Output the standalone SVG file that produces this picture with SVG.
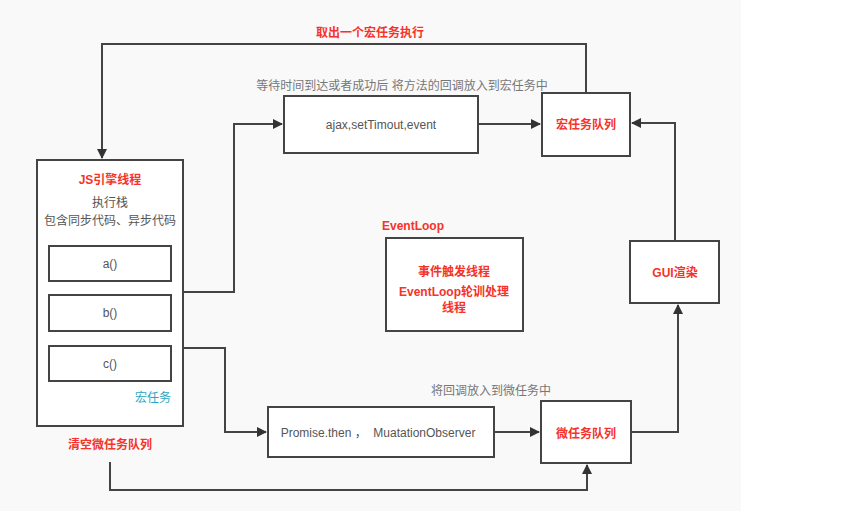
<svg xmlns="http://www.w3.org/2000/svg" width="852" height="515" viewBox="0 0 852 515">
<defs>
<marker id="arr" markerWidth="10" markerHeight="10" refX="9" refY="5" orient="auto" markerUnits="userSpaceOnUse">
<path d="M0,0 L10,5 L0,10 Z" fill="#333"/>
</marker>
<style>
.box{fill:#fff;stroke:#444;stroke-width:2}
.line{fill:none;stroke:#444;stroke-width:2}
.t{font-family:"Liberation Sans","Noto Sans CJK SC",sans-serif;font-size:12px;text-anchor:middle;dominant-baseline:central}
.red{fill:#f5332a;font-weight:bold}
.gray{fill:#555}
.lgray{fill:#777}
.cyan{fill:#2aa6c0}
</style>
</defs>
<rect x="0" y="0" width="852" height="515" fill="#fff"/>
<rect x="0" y="0" width="741" height="511" fill="#f9f9f9"/>

<g id="connectors">
<polyline class="line" points="586,93 586,44 102,44 102,158" marker-end="url(#arr)"/>
<polyline class="line" points="183,292 234,292 234,124 282,124" marker-end="url(#arr)"/>
<polyline class="line" points="478,124 540,124" marker-end="url(#arr)"/>
<polyline class="line" points="675,241 675,123 632,123" marker-end="url(#arr)"/>
<polyline class="line" points="183,348 225,348 225,432 266,432" marker-end="url(#arr)"/>
<polyline class="line" points="494,432 539,432" marker-end="url(#arr)"/>
<polyline class="line" points="631,432 678,432 678,305" marker-end="url(#arr)"/>
<polyline class="line" points="110,462 110,490 587,490 587,465" marker-end="url(#arr)"/>
</g>

<g id="label-top"><text class="t red" x="370" y="33">取出一个宏任务执行</text></g>
<g id="label-wait"><text class="t lgray" x="402" y="86">等待时间到达或者成功后 将方法的回调放入到宏任务中</text></g>
<g id="label-micro"><text class="t lgray" x="491" y="391">将回调放入到微任务中</text></g>
<g id="label-clear"><text class="t red" x="110" y="445">清空微任务队列</text></g>

<g id="js-engine">
<rect class="box" x="37" y="160" width="146" height="266"/>
<text class="t red" x="110" y="180">JS引擎线程</text>
<text class="t gray" x="110" y="203">执行栈</text>
<text class="t gray" x="110" y="221">包含同步代码、异步代码</text>
<text class="t cyan" x="153" y="398">宏任务</text>
</g>
<g id="a"><rect class="box" x="49" y="246" width="122" height="35"/><text class="t gray" x="110" y="264">a()</text></g>
<g id="b"><rect class="box" x="49" y="295" width="122" height="36"/><text class="t gray" x="110" y="313">b()</text></g>
<g id="c"><rect class="box" x="49" y="346" width="122" height="35"/><text class="t gray" x="110" y="364">c()</text></g>

<g id="ajax"><rect class="box" x="284" y="96" width="194" height="57"/><text class="t gray" x="381" y="125">ajax,setTimout,event</text></g>
<g id="macro-queue"><rect class="box" x="542" y="93" width="88" height="63"/><text class="t red" x="586" y="125">宏任务队列</text></g>

<g id="eventloop">
<text class="t red" x="413" y="226">EventLoop</text>
<rect class="box" x="386" y="238" width="137" height="93"/>
<text class="t red" x="454" y="272">事件触发线程</text>
<text class="t red" x="454" y="292">EventLoop轮训处理</text>
<text class="t red" x="454" y="308">线程</text>
</g>

<g id="gui"><rect class="box" x="630" y="241" width="89" height="62"/><text class="t red" x="675" y="273">GUI渲染</text></g>

<g id="promise"><rect class="box" x="268" y="407" width="226" height="50"/><text class="t gray" x="378" y="433" xml:space="preserve">Promise.then ，  MuatationObserver</text></g>
<g id="micro-queue"><rect class="box" x="541" y="401" width="90" height="62"/><text class="t red" x="586" y="434">微任务队列</text></g>
</svg>
